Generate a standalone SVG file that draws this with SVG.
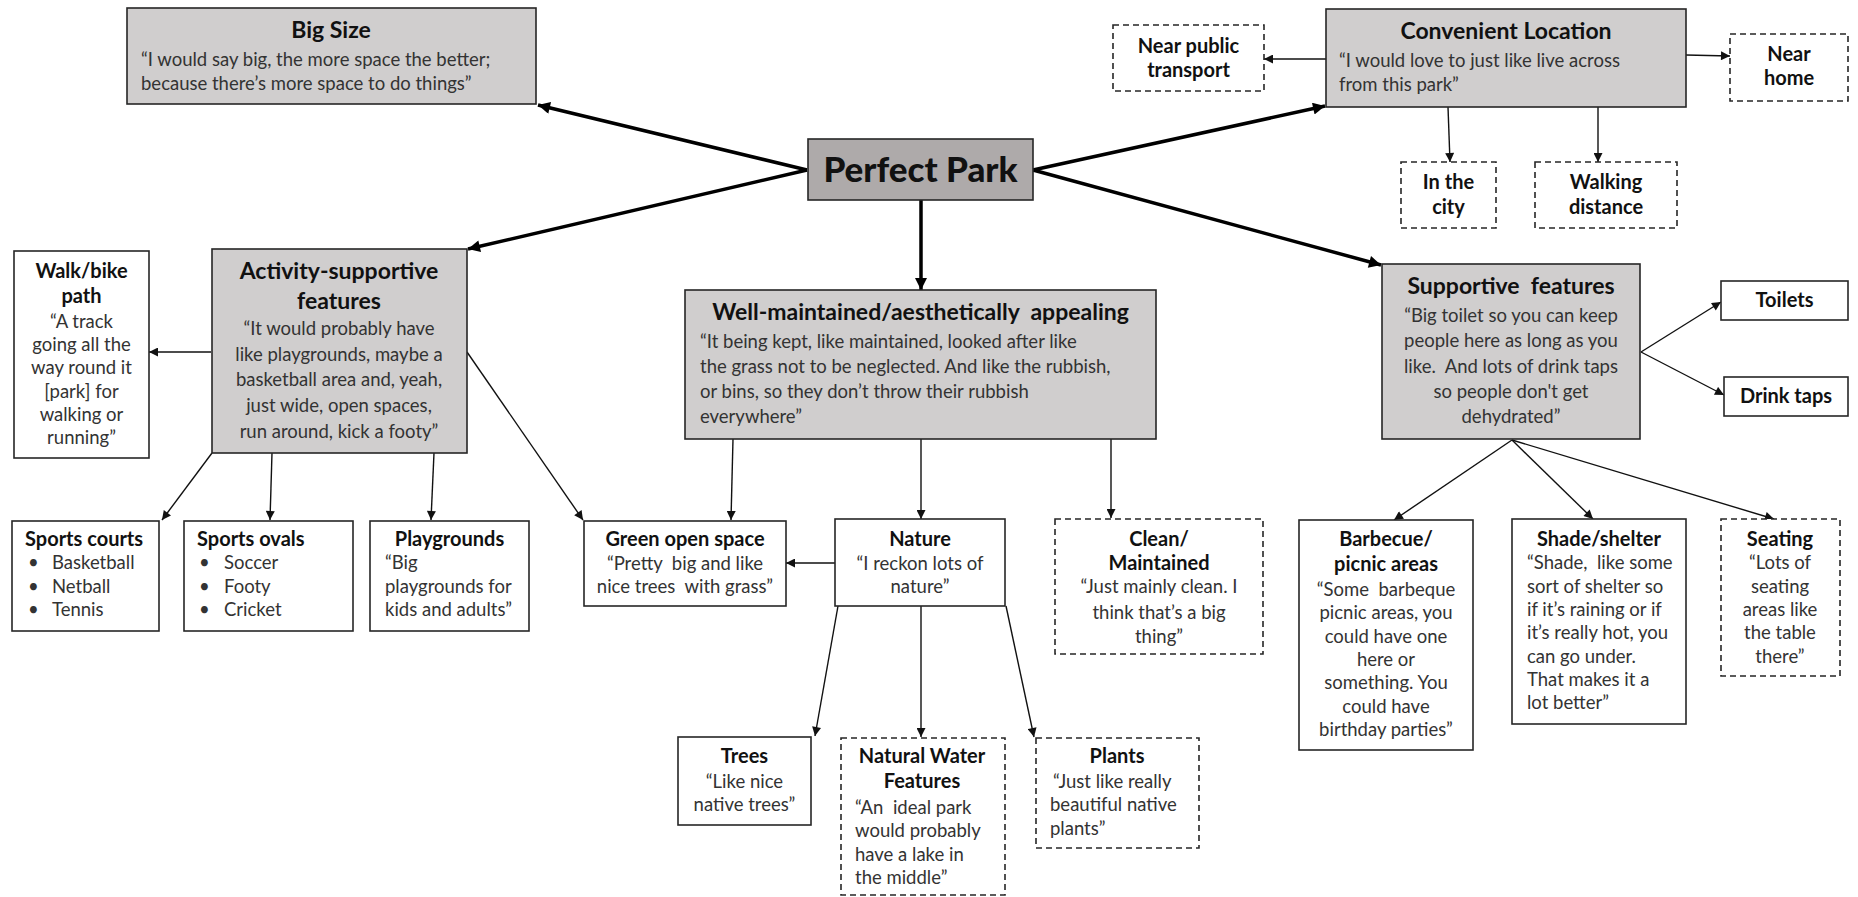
<svg xmlns="http://www.w3.org/2000/svg" width="1858" height="897" viewBox="0 0 1858 897">
<defs>
<style>
.box{fill:#fff;stroke:#262626;stroke-width:1.6}
.gray{fill:#d0cece}
.main{fill:#aeaaaa}
.dash{stroke-dasharray:6 4}
.t{font-family:Lato,"Liberation Sans",sans-serif;font-size:20px;font-weight:bold;fill:#111;text-anchor:middle}
.h{font-size:23px}
.q{font-family:Lato,"Liberation Sans",sans-serif;font-size:18.5px;fill:#333;text-anchor:middle}
.s{text-anchor:start}
.thick{stroke:#000;stroke-width:3.5;fill:none;marker-end:url(#ah)}
.thin{stroke:#111;stroke-width:1.4;fill:none;marker-end:url(#as)}
</style>
<marker id="ah" viewBox="0 0 10 10" refX="10" refY="5" markerWidth="16" markerHeight="12" markerUnits="userSpaceOnUse" orient="auto"><path d="M0,0 L10,5 L0,10 z" fill="#000"/></marker>
<marker id="as" viewBox="0 0 10 10" refX="10" refY="5" markerWidth="11" markerHeight="9" markerUnits="userSpaceOnUse" orient="auto"><path d="M0,0 L10,5 L0,10 z" fill="#111"/></marker>
</defs>
<rect width="1858" height="897" fill="#fff"/>

<g id="connectors">
<line class="thick" x1="807" y1="170" x2="538" y2="105"/>
<line class="thick" x1="807" y1="170" x2="468" y2="249"/>
<line class="thick" x1="921" y1="200" x2="921" y2="290"/>
<line class="thick" x1="1033" y1="170" x2="1325" y2="106"/>
<line class="thick" x1="1033" y1="170" x2="1381" y2="265"/>
<line class="thin" x1="1326" y1="59" x2="1264" y2="59"/>
<line class="thin" x1="1686" y1="55" x2="1730" y2="56"/>
<line class="thin" x1="1448" y1="107" x2="1450" y2="162"/>
<line class="thin" x1="1598" y1="107" x2="1598" y2="162"/>
<line class="thin" x1="211" y1="352" x2="149" y2="352"/>
<line class="thin" x1="212" y1="453" x2="162" y2="520"/>
<line class="thin" x1="272" y1="453" x2="270" y2="520"/>
<line class="thin" x1="434" y1="453" x2="431" y2="520"/>
<line class="thin" x1="467" y1="352" x2="583" y2="520"/>
<line class="thin" x1="733" y1="439" x2="731" y2="520"/>
<line class="thin" x1="921" y1="439" x2="921" y2="519"/>
<line class="thin" x1="1111" y1="439" x2="1111" y2="518"/>
<line class="thin" x1="835" y1="563" x2="786" y2="563"/>
<line class="thin" x1="838" y1="606" x2="815" y2="736"/>
<line class="thin" x1="921" y1="606" x2="921" y2="737"/>
<line class="thin" x1="1006" y1="606" x2="1034" y2="737"/>
<line class="thin" x1="1641" y1="352" x2="1721" y2="302"/>
<line class="thin" x1="1641" y1="352" x2="1724" y2="395"/>
<line class="thin" x1="1512" y1="440" x2="1394" y2="520"/>
<line class="thin" x1="1512" y1="440" x2="1593" y2="519"/>
<line class="thin" x1="1512" y1="440" x2="1774" y2="519"/>
</g>

<g id="perfect-park">
<rect class="box main" x="808" y="139" width="225" height="61"/>
<text x="920.5" y="182" style="font-family:Lato,'Liberation Sans',sans-serif;font-size:35px;font-weight:900;fill:#111;text-anchor:middle">Perfect Park</text>
</g>

<g id="big-size">
<rect class="box gray" x="127" y="8" width="409" height="96"/>
<text class="t h" x="331" y="38">Big Size</text>
<text class="q s" x="141" y="66">“I would say big, the more space the better;</text>
<text class="q s" x="141" y="90">because there’s more space to do things”</text>
</g>

<g id="convenient-location">
<rect class="box gray" x="1326" y="9" width="360" height="98"/>
<text class="t h" x="1506" y="39">Convenient Location</text>
<text class="q s" x="1339" y="67">“I would love to just like live across</text>
<text class="q s" x="1339" y="91">from this park”</text>
</g>

<g id="near-public-transport">
<rect class="box dash" x="1113" y="25" width="151" height="66"/>
<text class="t" x="1188.5" y="53">Near public</text>
<text class="t" x="1188.5" y="77">transport</text>
</g>

<g id="near-home">
<rect class="box dash" x="1730" y="34" width="118" height="67"/>
<text class="t" x="1789" y="61">Near</text>
<text class="t" x="1789" y="85">home</text>
</g>

<g id="in-the-city">
<rect class="box dash" x="1401" y="162" width="95" height="66"/>
<text class="t" x="1448.5" y="189">In the</text>
<text class="t" x="1448.5" y="214">city</text>
</g>

<g id="walking-distance">
<rect class="box dash" x="1535" y="162" width="142" height="66"/>
<text class="t" x="1606" y="189">Walking</text>
<text class="t" x="1606" y="214">distance</text>
</g>

<g id="activity-supportive">
<rect class="box gray" x="212" y="249" width="255" height="204"/>
<text class="t h" x="339" y="279">Activity-supportive</text>
<text class="t h" x="339" y="309">features</text>
<text class="q" x="339" y="335">“It would probably have</text>
<text class="q" x="339" y="361">like playgrounds, maybe a</text>
<text class="q" x="339" y="386">basketball area and, yeah,</text>
<text class="q" x="339" y="412">just wide, open spaces,</text>
<text class="q" x="339" y="438">run around, kick a footy”</text>
</g>

<g id="walk-bike-path">
<rect class="box" x="14" y="251" width="135" height="207"/>
<text class="t" x="81.5" y="278">Walk/bike</text>
<text class="t" x="81.5" y="303">path</text>
<text class="q" x="81.5" y="328">“A track</text>
<text class="q" x="81.5" y="351">going all the</text>
<text class="q" x="81.5" y="374">way round it</text>
<text class="q" x="81.5" y="398">[park] for</text>
<text class="q" x="81.5" y="421">walking or</text>
<text class="q" x="81.5" y="444">running”</text>
</g>

<g id="sports-courts">
<rect class="box" x="12" y="521" width="147" height="110"/>
<text class="t s" x="25" y="546">Sports courts</text>
<text class="q s" x="28" y="569">•</text><text class="q s" x="52" y="569">Basketball</text>
<text class="q s" x="28" y="593">•</text><text class="q s" x="52" y="593">Netball</text>
<text class="q s" x="28" y="616">•</text><text class="q s" x="52" y="616">Tennis</text>
</g>

<g id="sports-ovals">
<rect class="box" x="184" y="521" width="169" height="110"/>
<text class="t s" x="197" y="546">Sports ovals</text>
<text class="q s" x="199" y="569">•</text><text class="q s" x="224" y="569">Soccer</text>
<text class="q s" x="199" y="593">•</text><text class="q s" x="224" y="593">Footy</text>
<text class="q s" x="199" y="616">•</text><text class="q s" x="224" y="616">Cricket</text>
</g>

<g id="playgrounds">
<rect class="box" x="370" y="521" width="159" height="110"/>
<text class="t" x="449.5" y="546">Playgrounds</text>
<text class="q s" x="385" y="569">“Big</text>
<text class="q s" x="385" y="593">playgrounds for</text>
<text class="q s" x="385" y="616">kids and adults”</text>
</g>

<g id="well-maintained">
<rect class="box gray" x="685" y="290" width="471" height="149"/>
<text class="t h" x="920.5" y="320" xml:space="preserve">Well-maintained/aesthetically  appealing</text>
<text class="q s" x="700" y="348">“It being kept, like maintained, looked after like</text>
<text class="q s" x="700" y="373">the grass not to be neglected. And like the rubbish,</text>
<text class="q s" x="700" y="398">or bins, so they don’t throw their rubbish</text>
<text class="q s" x="700" y="423">everywhere”</text>
</g>

<g id="green-open-space">
<rect class="box" x="584" y="521" width="202" height="85"/>
<text class="t" x="685" y="546">Green open space</text>
<text class="q" x="685" y="570" xml:space="preserve">“Pretty  big and like</text>
<text class="q" x="685" y="593" xml:space="preserve">nice trees  with grass”</text>
</g>

<g id="nature">
<rect class="box" x="835" y="519" width="170" height="87"/>
<text class="t" x="920" y="546">Nature</text>
<text class="q" x="920" y="570">“I reckon lots of</text>
<text class="q" x="920" y="593">nature”</text>
</g>

<g id="clean-maintained">
<rect class="box dash" x="1055" y="519" width="208" height="135"/>
<text class="t" x="1159" y="546">Clean/</text>
<text class="t" x="1159" y="570">Maintained</text>
<text class="q" x="1159" y="593">“Just mainly clean. I</text>
<text class="q" x="1159" y="619">think that’s a big</text>
<text class="q" x="1159" y="643">thing”</text>
</g>

<g id="trees">
<rect class="box" x="678" y="737" width="133" height="88"/>
<text class="t" x="744.5" y="763">Trees</text>
<text class="q" x="744.5" y="788">“Like nice</text>
<text class="q" x="744.5" y="811">native trees”</text>
</g>

<g id="natural-water-features">
<rect class="box dash" x="841" y="738" width="164" height="157"/>
<text class="t" x="922" y="763">Natural Water</text>
<text class="t" x="922" y="788">Features</text>
<text class="q s" x="855" y="814" xml:space="preserve">“An  ideal park</text>
<text class="q s" x="855" y="837">would probably</text>
<text class="q s" x="855" y="861">have a lake in</text>
<text class="q s" x="855" y="884">the middle”</text>
</g>

<g id="plants">
<rect class="box dash" x="1036" y="738" width="163" height="110"/>
<text class="t" x="1117" y="763">Plants</text>
<text class="q s" x="1053" y="788">“Just like really</text>
<text class="q s" x="1050" y="811">beautiful native</text>
<text class="q s" x="1050" y="835">plants”</text>
</g>

<g id="supportive-features">
<rect class="box gray" x="1382" y="264" width="258" height="175"/>
<text class="t h" x="1511" y="294" xml:space="preserve">Supportive  features</text>
<text class="q" x="1511" y="322">“Big toilet so you can keep</text>
<text class="q" x="1511" y="347">people here as long as you</text>
<text class="q" x="1511" y="373" xml:space="preserve">like.  And lots of drink taps</text>
<text class="q" x="1511" y="398">so people don't get</text>
<text class="q" x="1511" y="423">dehydrated”</text>
</g>

<g id="toilets">
<rect class="box" x="1721" y="281" width="127" height="39"/>
<text class="t" x="1784.5" y="307">Toilets</text>
</g>

<g id="drink-taps">
<rect class="box" x="1724" y="377" width="124" height="39"/>
<text class="t" x="1786" y="403">Drink taps</text>
</g>

<g id="barbecue">
<rect class="box" x="1299" y="520" width="174" height="230"/>
<text class="t" x="1386" y="546">Barbecue/</text>
<text class="t" x="1386" y="571">picnic areas</text>
<text class="q" x="1386" y="596" xml:space="preserve">“Some  barbeque</text>
<text class="q" x="1386" y="619">picnic areas, you</text>
<text class="q" x="1386" y="643">could have one</text>
<text class="q" x="1386" y="666">here or</text>
<text class="q" x="1386" y="689">something. You</text>
<text class="q" x="1386" y="713">could have</text>
<text class="q" x="1386" y="736">birthday parties”</text>
</g>

<g id="shade-shelter">
<rect class="box" x="1512" y="519" width="174" height="205"/>
<text class="t" x="1599" y="546">Shade/shelter</text>
<text class="q s" x="1527" y="569" xml:space="preserve">“Shade,  like some</text>
<text class="q s" x="1527" y="593">sort of shelter so</text>
<text class="q s" x="1527" y="616">if it’s raining or if</text>
<text class="q s" x="1527" y="639">it’s really hot, you</text>
<text class="q s" x="1527" y="663">can go under.</text>
<text class="q s" x="1527" y="686">That makes it a</text>
<text class="q s" x="1527" y="709">lot better”</text>
</g>

<g id="seating">
<rect class="box dash" x="1721" y="519" width="119" height="157"/>
<text class="t" x="1780" y="546">Seating</text>
<text class="q" x="1780" y="569">“Lots of</text>
<text class="q" x="1780" y="593">seating</text>
<text class="q" x="1780" y="616">areas like</text>
<text class="q" x="1780" y="639">the table</text>
<text class="q" x="1780" y="663">there”</text>
</g>
</svg>
